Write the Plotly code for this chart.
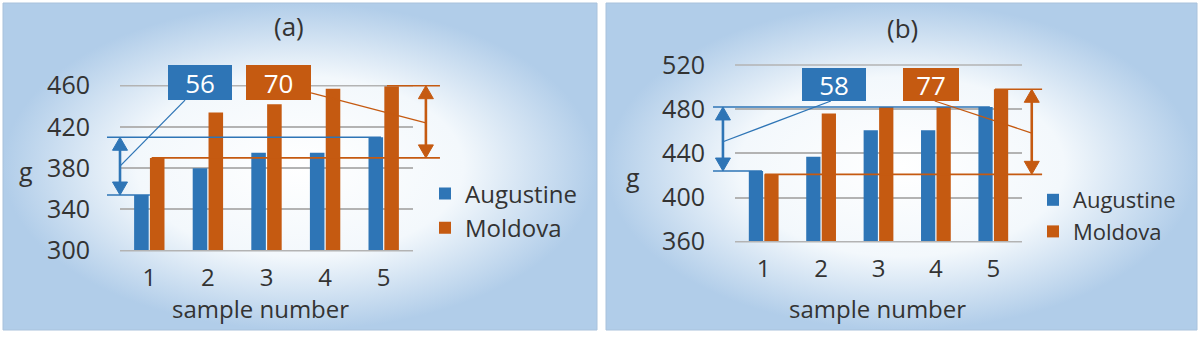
import plotly.graph_objects as go

# ---------------- data ----------------
samples = [1, 2, 3, 4, 5]
tick_labels = ["1", "2", "3", "4", "5"]
series_names = ["Augustine", "Moldova"]
aug_a = [354, 380, 395, 395, 410]
mol_a = [390, 434, 442, 457, 460]
aug_b = [424, 437, 461, 461, 482]
mol_b = [421, 476, 482, 482, 498]
yticks_a = [300, 340, 380, 420, 460]
yticks_b = [360, 400, 440, 480, 520]
titles = ["(a)", "(b)"]
x_title = "sample number"
y_title = "g"

BLUE = "#2e75b6"
ORANGE = "#c55a11"
TXT = "#333333"
GRID = "#b3b3b3"
FONT = "Open Sans"
W, H = 1200, 337

# ---------------- layout geometry (pixels) ----------------
PA = dict(x0=120, x1=413, ytop=85.7, ybot=250.7, ymin=300, ymax=460,
          xa="x3", ya="y3", leg="legend", panel=(3, 597))
PB = dict(x0=735, x1=1022, ytop=65, ybot=241.7, ymin=360, ymax=520,
          xa="x4", ya="y4", leg="legend2", panel=(606, 1197))
XR = (0.5, 5.5)


def fx(P, xv):
    return (xv - XR[0]) / (XR[1] - XR[0])


def fy(P, yv):
    return (yv - P["ymin"]) / (P["ymax"] - P["ymin"])


def pxx(P, n):
    return n / (P["x1"] - P["x0"])


def pxy(P, n):
    return n / (P["ybot"] - P["ytop"])


shapes = []
annotations = []


def seg(P, xa, ya, xb, yb, color, width):
    shapes.append(dict(type="line", xref=P["xa"] + " domain", yref=P["ya"] + " domain",
                       x0=fx(P, xa), y0=fy(P, ya), x1=fx(P, xb), y1=fy(P, yb),
                       line=dict(color=color, width=width), layer="above"))


def double_arrow(P, xv, ylo, yhi, color):
    L = pxy(P, 13)
    hw = pxx(P, 7.5)
    xc, y0, y1 = fx(P, xv), fy(P, ylo), fy(P, yhi)
    ref = dict(xref=P["xa"] + " domain", yref=P["ya"] + " domain")
    shapes.append(dict(type="line", x0=xc, x1=xc, y0=y0 + L * 0.8, y1=y1 - L * 0.8,
                       line=dict(color=color, width=2.6), layer="above", **ref))
    for (ya_, s) in ((y1, -1), (y0, 1)):
        path = "M {:.5f},{:.5f} L {:.5f},{:.5f} L {:.5f},{:.5f} Z".format(
            xc, ya_, xc - hw, ya_ + s * L, xc + hw, ya_ + s * L)
        shapes.append(dict(type="path", path=path, fillcolor=color,
                           line=dict(color=color, width=1), layer="above", **ref))


def box(P, xc, yc, text, color, wpx, hpx):
    annotations.append(dict(xref=P["xa"] + " domain", yref=P["ya"] + " domain",
                            x=fx(P, xc), y=fy(P, yc), text=text, showarrow=False,
                            xanchor="center", yanchor="middle", width=wpx, height=hpx,
                            bgcolor=color, bordercolor=color, borderwidth=0, borderpad=0,
                            font=dict(family=FONT, size=26, color="white")))


fig = go.Figure()

# ---------------- panel backgrounds (radial gradient) ----------------
for i, P in enumerate((PA, PB)):
    xn = "x" if i == 0 else "x2"
    yn = "y" if i == 0 else "y2"
    fig.add_trace(go.Scatter(
        x=[0, 1, 1, 0, 0], y=[0, 0, 1, 1, 0], fill="toself", mode="lines",
        line=dict(width=0, color="rgba(0,0,0,0)"),
        fillgradient=dict(type="radial",
                          colorscale=[[0, "#ffffff"], [0.55, "#f3f8fc"], [1, "#b1cde9"]]),
        hoverinfo="skip", showlegend=False, xaxis=xn, yaxis=yn))
    shapes.append(dict(type="rect", xref="paper", yref="paper",
                       x0=P["panel"][0] / W, x1=P["panel"][1] / W,
                       y0=(H - 330) / H, y1=(H - 3) / H,
                       line=dict(color="#a9c2dc", width=1), fillcolor="rgba(0,0,0,0)",
                       layer="above"))

# boundary gridlines (top and bottom ticks of each value axis)
for P, yt in ((PA, yticks_a), (PB, yticks_b)):
    for v in (yt[0], yt[-1]):
        shapes.append(dict(type="line", xref=P["xa"] + " domain", yref=P["ya"] + " domain",
                           x0=0, x1=1, y0=fy(P, v), y1=fy(P, v),
                           line=dict(color=GRID, width=1.5), layer="above"))

# ---------------- bars ----------------
for P, aug, mol in ((PA, aug_a, mol_a), (PB, aug_b, mol_b)):
    for name, vals, col in ((series_names[0], aug, BLUE), (series_names[1], mol, ORANGE)):
        fig.add_trace(go.Bar(x=samples, y=vals, name=name, marker=dict(color=col, line=dict(width=0)),
                             xaxis=P["xa"], yaxis=P["ya"], legend=P["leg"], hoverinfo="skip"))

# ---------------- range markers ----------------
# panel (a)
seg(PA, 0.278, max(aug_a), 4.954, max(aug_a), BLUE, 1.6)
seg(PA, 0.278, min(aug_a), 1.01, min(aug_a), BLUE, 1.6)
seg(PA, 5.056, max(mol_a), 5.96, max(mol_a), ORANGE, 1.6)
seg(PA, 1.04, min(mol_a), 5.96, min(mol_a), ORANGE, 1.6)
double_arrow(PA, 0.5, min(aug_a), max(aug_a), BLUE)
double_arrow(PA, 5.72, min(mol_a), max(mol_a), ORANGE)
seg(PA, 0.5, (min(aug_a) + max(aug_a)) / 2, 1.61, 446, BLUE, 1.3)
seg(PA, 3.76, 453, 5.72, 424, ORANGE, 1.3)
box(PA, 1.865, 463, str(max(aug_a) - min(aug_a)), BLUE, 64, 35)
box(PA, 3.205, 463, str(max(mol_a) - min(mol_a)), ORANGE, 65, 35)

# panel (b)
seg(PB, 0.117, max(aug_b), 4.94, max(aug_b), BLUE, 1.6)
seg(PB, 0.117, min(aug_b), 0.97, min(aug_b), BLUE, 1.6)
seg(PB, 5.03, max(mol_b), 5.85, max(mol_b), ORANGE, 1.6)
seg(PB, 1.02, min(mol_b), 5.85, min(mol_b), ORANGE, 1.6)
double_arrow(PB, 0.29, min(aug_b), max(aug_b), BLUE)
double_arrow(PB, 5.67, min(mol_b), max(mol_b), ORANGE)
seg(PB, 0.29, 450.5, 2.17, 487.4, BLUE, 1.3)
seg(PB, 3.98, 487.4, 5.67, 458.4, ORANGE, 1.3)
box(PB, 2.22, 502.3, str(max(aug_b) - min(aug_b)), BLUE, 64, 33)
box(PB, 3.92, 502.3, str(max(mol_b) - min(mol_b)), ORANGE, 56, 33)

# ---------------- text ----------------
def ptext(x, y, text, size):
    annotations.append(dict(xref="paper", yref="paper", x=x / W, y=1 - y / H, text=text,
                            showarrow=False, xanchor="center", yanchor="middle",
                            font=dict(family=FONT, size=size, color=TXT)))


ptext(289, 26, titles[0], 26)
ptext(902, 28, titles[1], 26)
ptext(260, 308, x_title, 24)
ptext(877, 308, x_title, 24)
ptext(26, 171, y_title, 25)
ptext(633, 177, y_title, 25)

# ---------------- axes ----------------
layout = dict(
    width=W, height=H, margin=dict(l=0, r=0, t=0, b=0, pad=0, autoexpand=False),
    autosize=False,
    paper_bgcolor="white", plot_bgcolor="rgba(0,0,0,0)",
    barmode="group", bargap=0.46, bargroupgap=0.08,
    showlegend=True, hovermode=False,
    shapes=shapes, annotations=annotations,
    font=dict(family=FONT, color=TXT),
)
for i, P in enumerate((PA, PB)):
    bx = "xaxis" if i == 0 else "xaxis2"
    by = "yaxis" if i == 0 else "yaxis2"
    layout[bx] = dict(domain=[P["panel"][0] / W, P["panel"][1] / W], range=[0, 1],
                      visible=False, fixedrange=True)
    layout[by] = dict(domain=[(H - 330) / H, (H - 3) / H], range=[0, 1],
                      visible=False, fixedrange=True)

for P, yt in ((PA, yticks_a), (PB, yticks_b)):
    xk = "xaxis" + P["xa"][1:]
    yk = "yaxis" + P["ya"][1:]
    layout[xk] = dict(domain=[P["x0"] / W, P["x1"] / W], anchor=P["ya"], range=list(XR),
                      tickvals=samples, ticktext=tick_labels, showgrid=False, zeroline=False,
                      showline=False, ticks="outside", ticklen=5, tickcolor="rgba(0,0,0,0)",
                      tickfont=dict(family=FONT, size=24, color=TXT), fixedrange=True,
                      automargin=False)
    layout[yk] = dict(domain=[(H - P["ybot"]) / H, (H - P["ytop"]) / H], anchor=P["xa"],
                      range=[P["ymin"], P["ymax"]], tickvals=yt, showgrid=True,
                      gridcolor=GRID, gridwidth=1.5, zeroline=False, showline=False,
                      ticks="outside", ticklen=24, tickcolor="rgba(0,0,0,0)",
                      tickfont=dict(family=FONT, size=25, color=TXT), fixedrange=True,
                      automargin=False)

layout["legend"] = dict(x=425 / W, y=1 - 211 / H, xanchor="left", yanchor="middle",
                        bgcolor="rgba(0,0,0,0)", font=dict(family=FONT, size=24, color=TXT))
layout["legend2"] = dict(x=1033 / W, y=1 - 216 / H, xanchor="left", yanchor="middle",
                         bgcolor="rgba(0,0,0,0)", font=dict(family=FONT, size=22, color=TXT))

fig.update_layout(**layout)
fig.write_html("out.html", config={"displayModeBar": False})
